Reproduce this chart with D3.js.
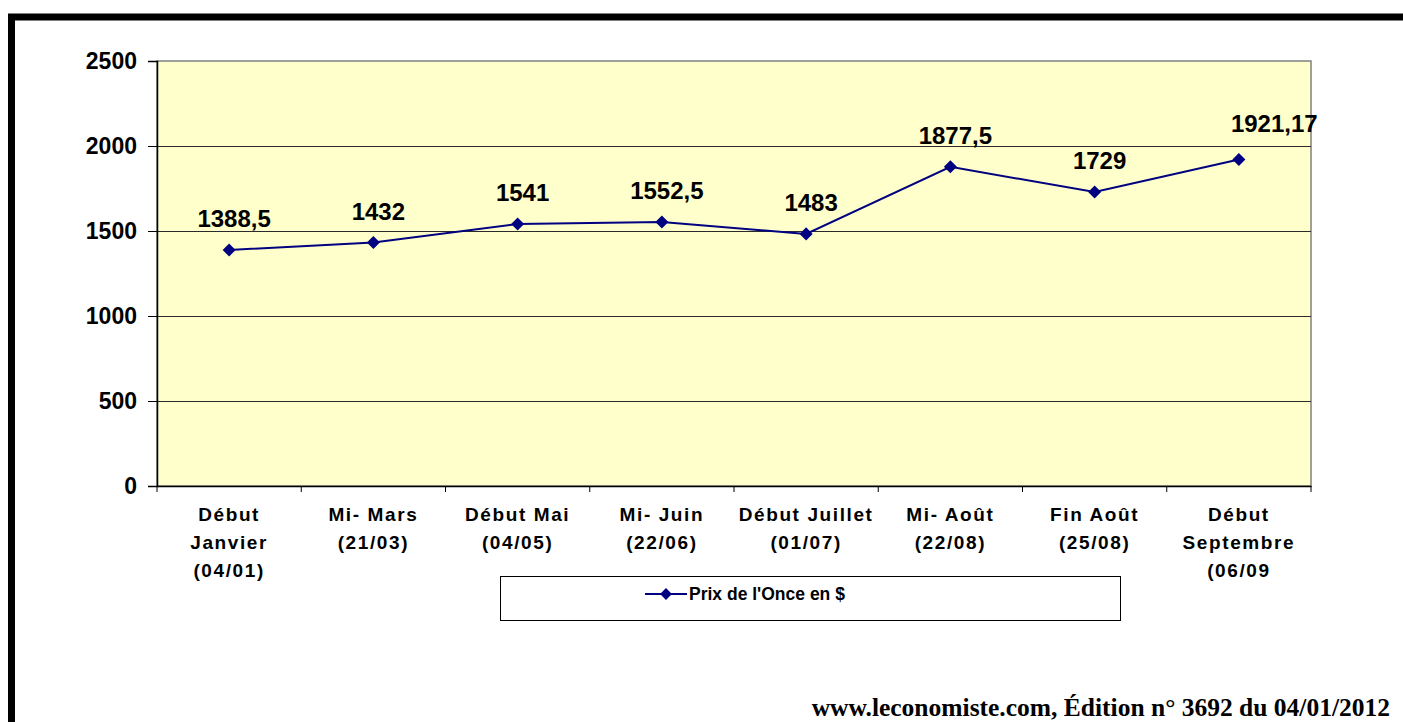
<!DOCTYPE html>
<html><head><meta charset="utf-8">
<script src="https://cdn.jsdelivr.net/npm/d3@7"></script>
<style>
html,body{margin:0;padding:0;background:#fff;}
svg{display:block;}
</style></head>
<body>
<svg id="chart" width="1403" height="722"></svg>
<script>
const categories = [
  ["Début","Janvier","(04/01)"],
  ["Mi- Mars","(21/03)"],
  ["Début Mai","(04/05)"],
  ["Mi- Juin","(22/06)"],
  ["Début Juillet","(01/07)"],
  ["Mi- Août","(22/08)"],
  ["Fin Août","(25/08)"],
  ["Début","Septembre","(06/09"]
];
const values = [1388.5, 1432, 1541, 1552.5, 1483, 1877.5, 1729, 1921.17];
const valueLabels = ["1388,5","1432","1541","1552,5","1483","1877,5","1729","1921,17"];
const yTicks = [0, 500, 1000, 1500, 2000, 2500];
const seriesName = "Prix de l'Once en $";
const footer = "www.leconomiste.com, Édition n° 3692 du 04/01/2012";

const svg = d3.select("#chart");
const L = 157, R = 1311, T = 61, B = 486;
const navy = "#000080";
const sans = "Arial, 'Liberation Sans', sans-serif";

// frame
svg.append("rect").attr("x",11.5).attr("y",17).attr("width",1403).attr("height",722)
  .attr("fill","none").attr("stroke","#000").attr("stroke-width",7);

const x = d3.scaleBand().domain(d3.range(categories.length)).range([L,R]).padding(0);
const y = d3.scaleLinear().domain([0,2500]).range([B,T]);

svg.append("rect").attr("x",L).attr("y",T).attr("width",R-L).attr("height",B-T)
  .attr("fill","#FFFFCC").attr("stroke","#808080").attr("stroke-width",1.5);

// gridlines
svg.append("g").selectAll("line").data(yTicks.filter(d=>d>0&&d<2500)).join("line")
  .attr("x1",L).attr("x2",R).attr("y1",d=>Math.round(y(d))+0.5).attr("y2",d=>Math.round(y(d))+0.5)
  .attr("stroke","#2a2a2a").attr("stroke-width",1);

// y axis
const yAxis = svg.append("g").attr("transform",`translate(${L},0)`)
  .call(d3.axisLeft(y).tickValues(yTicks).tickSize(9).tickPadding(11).tickFormat(d=>d));
yAxis.select(".domain").attr("stroke","#000").attr("stroke-width",1.5);
yAxis.selectAll(".tick line").attr("stroke","#000");
yAxis.selectAll(".tick text").attr("font-family",sans)
  .attr("font-weight","bold").attr("font-size",23).attr("fill","#000");

// x axis
const xAxis = svg.append("g").attr("transform",`translate(0,${B})`)
  .call(d3.axisBottom(x).tickSize(0).tickFormat(""));
xAxis.select(".domain").attr("stroke","#000").attr("stroke-width",1.5);
svg.append("g").selectAll("line").data(d3.range(categories.length+1)).join("line")
  .attr("x1",i=>i<categories.length? x(i): R).attr("x2",i=>i<categories.length? x(i): R)
  .attr("y1",B).attr("y2",B+6).attr("stroke","#000").attr("stroke-width",1);

const xl = svg.append("g");
categories.forEach((lines,i)=>{
  const t = xl.append("text").attr("x",x(i)+x.bandwidth()/2).attr("y",521)
    .attr("text-anchor","middle").attr("font-family",sans)
    .attr("font-weight","bold").attr("font-size",19).attr("letter-spacing","1.6px").attr("fill","#000");
  lines.forEach((ln,j)=>t.append("tspan").attr("x",x(i)+x.bandwidth()/2).attr("y",521+j*28).text(ln));
});

// line
const cx = i => x(i)+x.bandwidth()/2;
svg.append("path").datum(values)
  .attr("d", d3.line().x((d,i)=>cx(i)).y(d=>y(d)))
  .attr("fill","none").attr("stroke",navy).attr("stroke-width",2);

svg.append("g").selectAll("path").data(values).join("path")
  .attr("d", d3.symbol().type(d3.symbolSquare).size(85)())
  .attr("transform",(d,i)=>`translate(${cx(i)},${y(d)}) rotate(45)`)
  .attr("fill",navy);

const last = values.length-1;
svg.append("g").selectAll("text").data(values).join("text")
  .attr("x",(d,i)=> i===last ? cx(i)-8 : cx(i)+5)
  .attr("y",(d,i)=>y(d)-(i===last?27:23))
  .attr("text-anchor",(d,i)=> i===last ? "start" : "middle").attr("font-family",sans)
  .attr("font-weight","bold").attr("font-size",24).attr("fill","#000")
  .text((d,i)=>valueLabels[i]);

// legend
svg.append("rect").attr("x",500.5).attr("y",576.5).attr("width",620).attr("height",44)
  .attr("fill","#fff").attr("stroke","#000").attr("stroke-width",1);
svg.append("line").attr("x1",645).attr("x2",687).attr("y1",594).attr("y2",594)
  .attr("stroke",navy).attr("stroke-width",2);
svg.append("path").attr("transform","translate(666,594) rotate(45)")
  .attr("d", d3.symbol().type(d3.symbolSquare).size(70)()).attr("fill",navy);
svg.append("text").attr("x",689).attr("y",600).attr("font-family",sans)
  .attr("font-weight","bold").attr("font-size",17.5).text(seriesName);

// footer
svg.append("text").attr("x",1390).attr("y",716).attr("text-anchor","end")
  .attr("font-family","'Liberation Serif', 'DejaVu Serif', serif").attr("font-weight","bold")
  .attr("font-size",25.5).text(footer);
</script>
</body></html>
